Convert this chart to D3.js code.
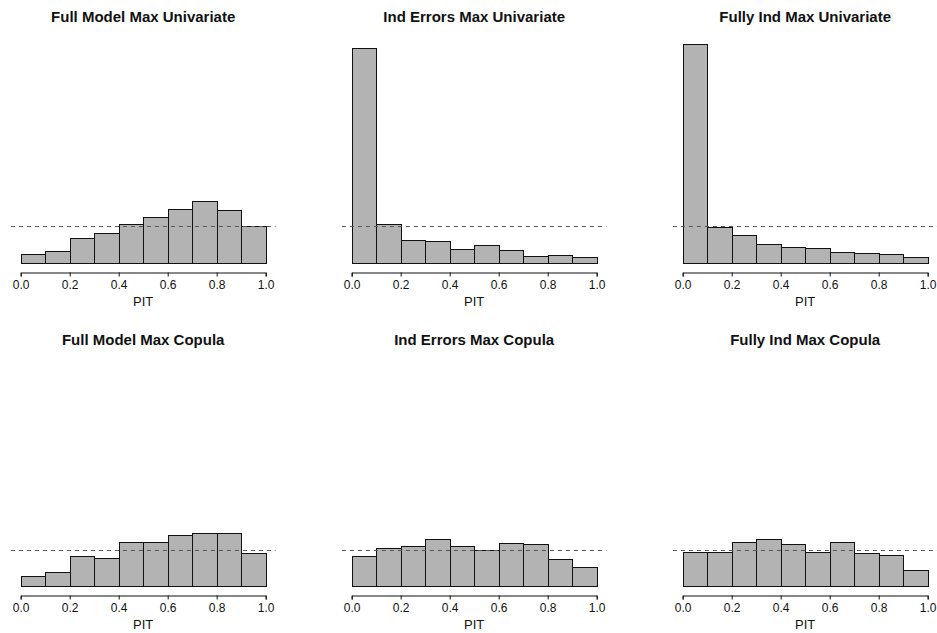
<!DOCTYPE html>
<html>
<head>
<meta charset="utf-8">
<script src="https://cdn.jsdelivr.net/npm/d3@7"></script>
<style>
  body { margin: 0; background: #fff; }
  svg { display: block; font-family: "Liberation Sans", Arial, sans-serif; }
</style>
</head>
<body>
<div id="chart"></div>
<script>
"use strict";

// bin edges shared by every histogram (10 bins on [0, 1])
const binEdges = [0, 0.1, 0.2, 0.3, 0.4, 0.5, 0.6, 0.7, 0.8, 0.9, 1.0];
const tickValues = [0, 0.2, 0.4, 0.6, 0.8, 1.0];

const titles = [
  "Full Model Max Univariate", "Ind Errors Max Univariate", "Fully Ind Max Univariate",
  "Full Model Max Copula", "Ind Errors Max Copula", "Fully Ind Max Copula"
];

// PIT densities per bin
const fullModelUni = [0.25, 0.32, 0.69, 0.81, 1.07, 1.25, 1.47, 1.69, 1.44, 1.01];
const indErrorsUni = [5.90, 1.07, 0.63, 0.60, 0.37, 0.49, 0.34, 0.19, 0.21, 0.15];
const fullyIndUni = [6.02, 0.97, 0.75, 0.51, 0.42, 0.40, 0.29, 0.26, 0.23, 0.16];
const fullModelCop = [0.28, 0.39, 0.83, 0.78, 1.22, 1.23, 1.40, 1.47, 1.46, 0.92];
const indErrorsCop = [0.83, 1.06, 1.11, 1.31, 1.11, 1.00, 1.19, 1.15, 0.75, 0.52];
const fullyIndCop = [0.95, 0.93, 1.22, 1.31, 1.17, 0.95, 1.23, 0.92, 0.86, 0.46];

const panels = [fullModelUni, indErrorsUni, fullyIndUni, fullModelCop, indErrorsCop, fullyIndCop];

const svgWidth = 937;
const svgHeight = 633;
const colStep = 331;
const rowStep = 323.6;
const plotLeft = 20.7;
const plotWidth = 245;
const baseTop = 262.7;      // density 0 in top row
const pxPerUnit = 36.4;
const yMax = 6;

const svg = d3.select("#chart")
  .append("svg")
  .attr("width", svgWidth)
  .attr("height", svgHeight)
;

panels.forEach((dens, i) => {
  const col = i % 3;
  const row = Math.floor(i / 3);
  const x0 = plotLeft + col * colStep;
  const base = baseTop + row * rowStep;

  const xScale = d3.scaleLinear().domain([0, 1]).range([x0, x0 + plotWidth]);
  const yScale = d3.scaleLinear().domain([0, yMax]).range([base, base - yMax * pxPerUnit]);

  const g = svg.append("g");

  // title
  g.append("text")
    .attr("x", xScale(0.5))
    .attr("y", base - 241.2)
    .attr("text-anchor", "middle")
    .attr("font-size", 15)
    .attr("font-weight", "bold")
    .attr("fill", "#111")
    .text(titles[i])
  ;

  // bars
  g.selectAll("rect")
    .data(dens)
    .enter()
    .append("rect")
    .attr("x", (d, j) => Math.round(xScale(binEdges[j])) + 0.5)
    .attr("y", d => Math.round(yScale(d)) + 0.5)
    .attr("width", (d, j) => Math.round(xScale(binEdges[j + 1])) - Math.round(xScale(binEdges[j])))
    .attr("height", d => Math.round(yScale(0)) - Math.round(yScale(d)))
    .attr("fill", "#b3b3b3")
    .attr("stroke", "#111")
    .attr("stroke-width", 1)
  ;

  // reference density line
  g.append("line")
    .attr("x1", xScale(-0.04))
    .attr("x2", xScale(1.04))
    .attr("y1", Math.round(yScale(1)) + 0.5)
    .attr("y2", Math.round(yScale(1)) + 0.5)
    .attr("stroke", "#555")
    .attr("stroke-width", 1)
    .attr("stroke-dasharray", "4,4")
  ;

  // x axis
  const xAxis = d3.axisBottom(xScale)
    .tickValues(tickValues)
    .tickFormat(d3.format(".1f"))
    .tickSizeOuter(0)
    .tickSize(4)
    .tickPadding(4)
  ;
  const ax = g.append("g")
    .attr("transform", `translate(0, ${Math.round(base + 9) + 0.5})`)
    .call(xAxis)
  ;
  ax.selectAll("text")
    .attr("font-size", 12)
    .attr("font-family", "'Liberation Sans', Arial, sans-serif")
    .attr("fill", "#111")
  ;
  ax.selectAll("line, path").attr("stroke", "#111");

  // axis label
  g.append("text")
    .attr("x", xScale(0.5))
    .attr("y", base + 43)
    .attr("text-anchor", "middle")
    .attr("font-size", 13)
    .attr("fill", "#111")
    .text("PIT")
  ;
});
</script>
</body>
</html>
